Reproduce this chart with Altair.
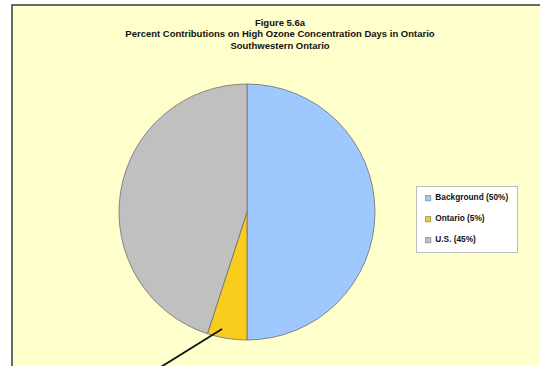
import altair as alt
import pandas as pd

# Source contributions (percent)
sources = ["Background (50%)", "Ontario (5%)", "U.S. (45%)"]
shares = [50, 5, 45]
slice_colors = ["#9FC8FF", "#F8CC1C", "#C0C0C0"]
title_lines = [
    "Figure 5.6a",
    "Percent Contributions on High Ozone Concentration Days in Ontario",
    "Southwestern Ontario",
]

df = pd.DataFrame({"source": sources, "share": shares, "order": list(range(len(sources)))})
one = pd.DataFrame({"k": [0]})

W, H = 540, 366
CX, CY, R = 247, 212, 128

# Pale yellow chart area with a dark frame
frame = alt.Chart(one).mark_rect(fill="#FFFFCC", stroke="#3A3A3A", strokeWidth=1.5).encode(
    x=alt.value(12), x2=alt.value(600), y=alt.value(5), y2=alt.value(420)
)

pie = alt.Chart(df).mark_arc(radius=R, stroke="#6E6E6E", strokeWidth=0.8).encode(
    theta=alt.Theta("share:Q", stack=True),
    order=alt.Order("order:Q"),
    color=alt.Color(
        "source:N",
        sort=sources,
        scale=alt.Scale(domain=sources, range=slice_colors),
        legend=alt.Legend(
            title=None,
            orient="none",
            legendX=416,
            legendY=186,
            fillColor="#FFFFFF",
            strokeColor="#BDBDBD",
            padding=8,
            rowPadding=12,
            symbolType="square",
            symbolSize=28,
            symbolStrokeColor="#6E6E6E",
            symbolStrokeWidth=0.6,
            labelFont="Liberation Sans",
            labelFontSize=8.3,
            labelFontWeight="bold",
            labelColor="#111111",
            labelOffset=3,
        ),
    ),
    x=alt.value(CX),
    y=alt.value(CY),
)

# Leader line from the Ontario slice
leader = alt.Chart(one).mark_rule(color="#111111", strokeWidth=1.8).encode(
    x=alt.value(222), y=alt.value(329), x2=alt.value(156), y2=alt.value(370)
)

title_layers = []
for i, line in enumerate(title_lines):
    title_layers.append(
        alt.Chart(pd.DataFrame({"t": [line]})).mark_text(
            font="Liberation Sans", fontSize=9.5, fontWeight="bold", color="#111111",
            align="center", baseline="middle",
        ).encode(text="t:N", x=alt.value(280), y=alt.value(22.5 + 11.5 * i))
    )

chart = alt.layer(frame, pie, leader, *title_layers).properties(
    width=W, height=H, background="#FFFFFF", padding=0, autosize=alt.AutoSizeParams(type="none")
).configure_view(stroke=None)

chart.save("out.html", embed_options={"renderer": "svg", "actions": False})
